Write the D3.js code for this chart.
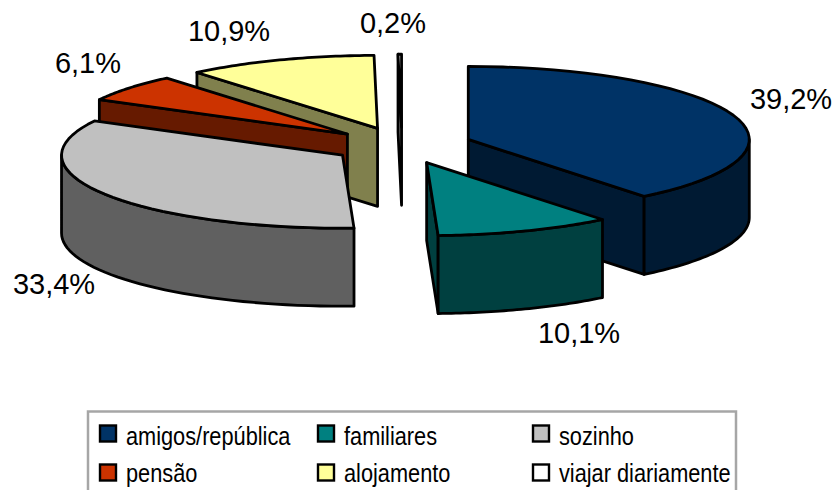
<!DOCTYPE html>
<html>
<head>
<meta charset="utf-8">
<script src="https://cdn.jsdelivr.net/npm/d3@7"></script>
<style>
html,body{margin:0;padding:0;background:#fff;overflow:hidden}
text{font-family:"Liberation Sans",Arial,sans-serif;fill:#000}
</style>
</head>
<body>
<svg id="chart" width="837" height="490"></svg>
<script>
const categories = ["amigos/república","familiares","sozinho","pensão","alojamento","viajar diariamente"];
const values = [39.2,10.1,33.4,6.1,10.9,0.2];
const valueLabels = ["39,2%","10,1%","33,4%","6,1%","10,9%","0,2%"];
const topColors = ["#003366","#008080","#C0C0C0","#CC3300","#FFFF99","#FFFFFF"];

const cx = 402, cy = 145.5, rx = 281, ry = 73, depth = 78, explode = 0.25;
const labelPos = [[791,109],[579,343],[54,294],[88,73],[229,41],[393,33]];

const svg = d3.select("#chart");
const half = c => { const r = d3.rgb(c); return d3.rgb(r.r/2, r.g/2, r.b/2).formatHex(); };

const arcs = d3.pie().sort(null).value(d => d)(values).map((a,i) => {
  const mid = (a.startAngle + a.endAngle) / 2;
  return {
    i, a0:a.startAngle, a1:a.endAngle, mid,
    ox: cx + explode * rx * Math.sin(mid),
    oy: cy - explode * ry * Math.cos(mid)
  };
});

const rim = (s, t, dz=0) => [s.ox + rx*Math.sin(t), s.oy - ry*Math.cos(t) + dz];
const line = d3.line();
const sample = (t0,t1) => d3.range(0,41).map(k => t0 + (t1-t0)*k/40);

const layer = svg.append("g").attr("stroke","#000").attr("stroke-width",2.8).attr("stroke-linejoin","round");
const ordered = arcs.slice().sort((p,q) => Math.cos(q.mid) - Math.cos(p.mid));

ordered.forEach(s => {
  const dark = half(topColors[s.i]);
  const g = layer.append("g");
  const face = t => [[s.ox,s.oy], rim(s,t), rim(s,t,depth), [s.ox,s.oy+depth]];
  if (Math.sin(s.a1) > 1e-6) g.append("path").attr("d", line(face(s.a1))+"Z").attr("fill",dark);
  if (Math.sin(s.a0) < -1e-6) g.append("path").attr("d", line(face(s.a0))+"Z").attr("fill",dark);
  const w0 = Math.max(s.a0, Math.PI/2), w1 = Math.min(s.a1, 3*Math.PI/2);
  if (w1 > w0) {
    const top = sample(w0,w1).map(t => rim(s,t));
    const bot = sample(w1,w0).map(t => rim(s,t,depth));
    g.append("path").attr("d", line(top.concat(bot))+"Z").attr("fill",dark);
  }
  const surf = [[s.ox,s.oy]].concat(sample(s.a0,s.a1).map(t => rim(s,t)));
  g.append("path").attr("d", line(surf)+"Z").attr("fill",topColors[s.i]);
});

svg.append("g").selectAll("text").data(valueLabels).join("text")
  .attr("x",(d,i)=>labelPos[i][0]).attr("y",(d,i)=>labelPos[i][1])
  .attr("text-anchor","middle").attr("font-size",29).text(d=>d);

// legend
const colX = [100,318,533];
const swatchY = [433.5,472.5];
const textY = [445,482];
svg.append("path").attr("d","M88,490V411.5H736V490").attr("fill","none").attr("stroke","#a6a6a6").attr("stroke-width",2.5);
const items = svg.append("g").selectAll("g").data(categories).join("g");
items.append("rect")
  .attr("x",(d,i)=>colX[i%3]).attr("y",(d,i)=>swatchY[Math.floor(i/3)]-8)
  .attr("width",16).attr("height",16)
  .attr("fill",(d,i)=>topColors[i]).attr("stroke","#000").attr("stroke-width",2.4);
items.append("text")
  .attr("transform",(d,i)=>`translate(${colX[i%3]+26},${textY[Math.floor(i/3)]}) scale(0.87,1)`)
  .attr("font-size",25).text(d=>d);
</script>
</body>
</html>
